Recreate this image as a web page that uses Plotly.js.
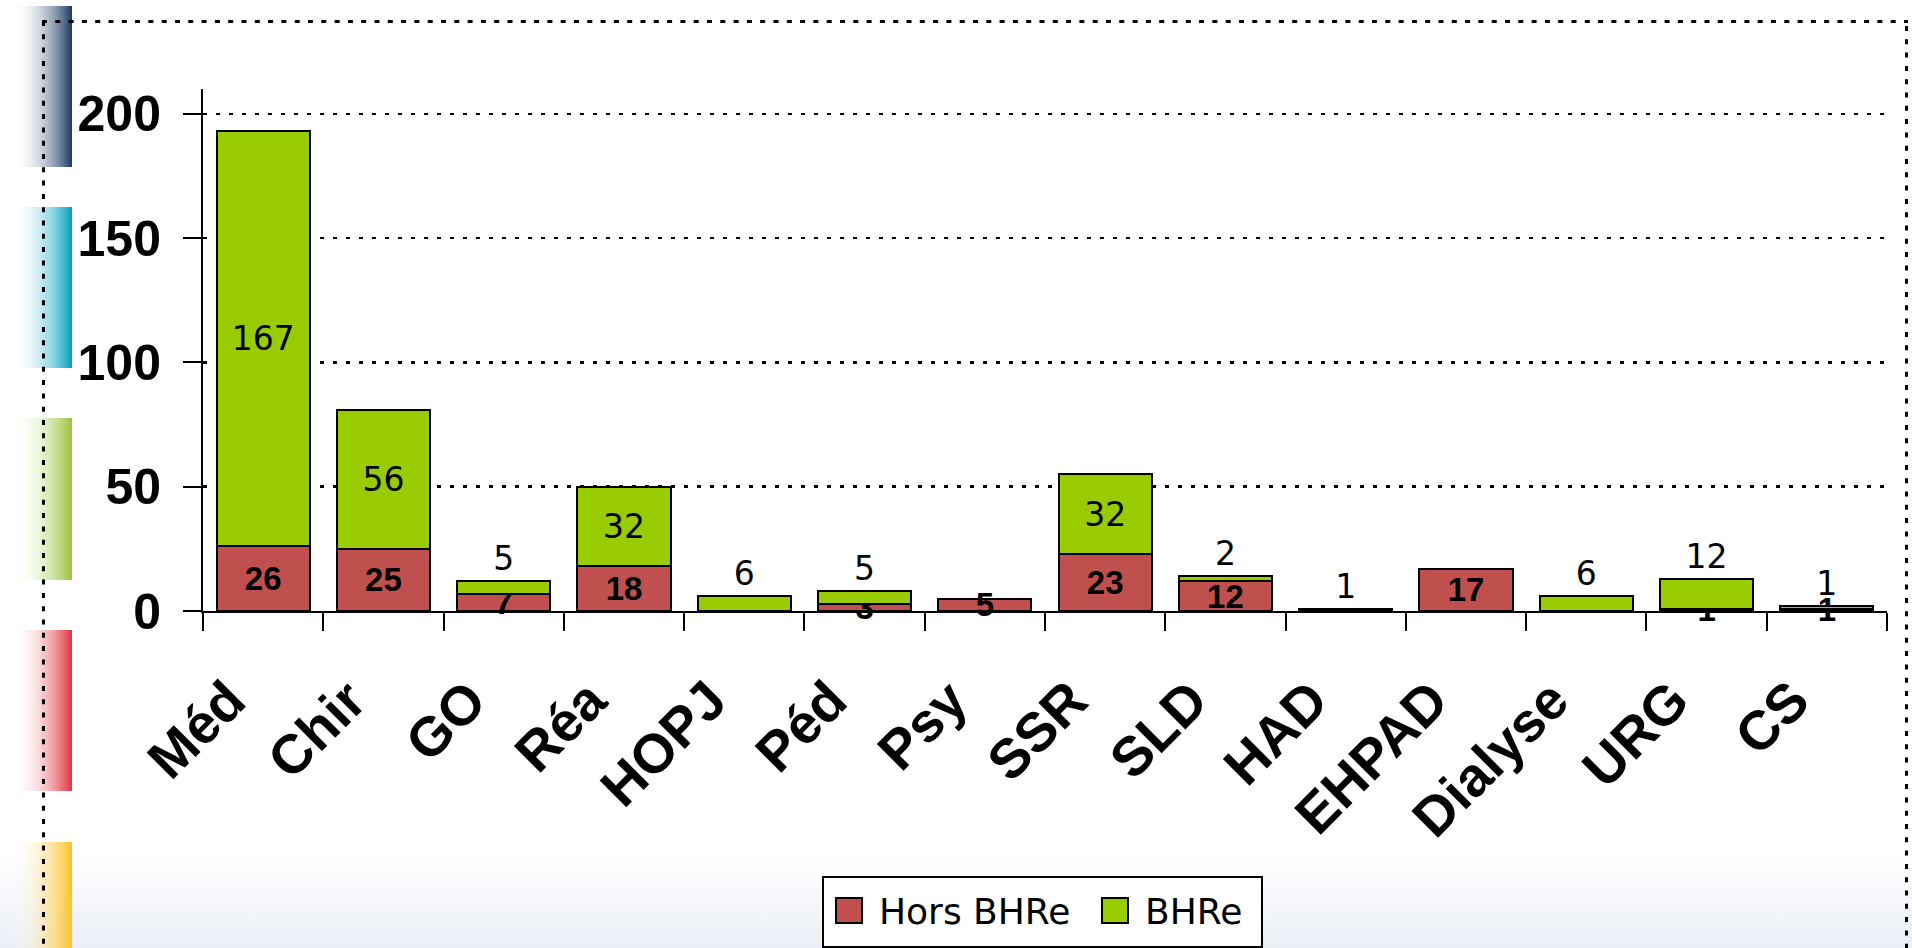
<!DOCTYPE html>
<html>
<head>
<meta charset="utf-8">
<script src="https://cdn.plot.ly/plotly-3.0.1.min.js"></script>
<style>
html,body{margin:0;padding:0;width:1912px;height:948px;overflow:hidden;background:#ffffff;}
#bg{position:absolute;left:0;top:0;}
#chart{position:absolute;left:0;top:0;width:1912px;height:948px;}
</style>
</head>
<body>
<svg id="bg" width="1912" height="948" xmlns="http://www.w3.org/2000/svg">
  <defs>
    <linearGradient id="gBottom" x1="0" y1="0" x2="0" y2="1">
      <stop offset="0" stop-color="#ffffff"/>
      <stop offset="1" stop-color="#ebeff5"/>
    </linearGradient>
    <linearGradient id="gNavy" x1="0" y1="0" x2="1" y2="0">
      <stop offset="0" stop-color="#ffffff" stop-opacity="0"/>
      <stop offset="1" stop-color="#1b3964"/>
    </linearGradient>
    <linearGradient id="gTeal" x1="0" y1="0" x2="1" y2="0">
      <stop offset="0" stop-color="#ffffff" stop-opacity="0"/>
      <stop offset="1" stop-color="#00a1bf"/>
    </linearGradient>
    <linearGradient id="gGreen" x1="0" y1="0" x2="1" y2="0">
      <stop offset="0" stop-color="#ffffff" stop-opacity="0"/>
      <stop offset="1" stop-color="#9bc33a"/>
    </linearGradient>
    <linearGradient id="gRed" x1="0" y1="0" x2="1" y2="0">
      <stop offset="0" stop-color="#ffffff" stop-opacity="0"/>
      <stop offset="1" stop-color="#e1323f"/>
    </linearGradient>
    <linearGradient id="gOrange" x1="0" y1="0" x2="1" y2="0">
      <stop offset="0" stop-color="#ffffff" stop-opacity="0"/>
      <stop offset="1" stop-color="#fdc225"/>
    </linearGradient>
  </defs>
  <rect x="0" y="850" width="1912" height="98" fill="url(#gBottom)"/>
  <rect x="13" y="6" width="59" height="161" fill="url(#gNavy)"/>
  <rect x="13" y="207" width="59" height="161" fill="url(#gTeal)"/>
  <rect x="13" y="418" width="59" height="162" fill="url(#gGreen)"/>
  <rect x="13" y="630" width="59" height="161" fill="url(#gRed)"/>
  <rect x="13" y="842" width="59" height="106" fill="url(#gOrange)"/>
  <g stroke="#000" stroke-width="3" stroke-dasharray="5 8.3" fill="none">
    <line x1="42" y1="21.5" x2="1908" y2="21.5"/>
    <line x1="43.5" y1="21" x2="43.5" y2="948"/>
    <line x1="1906.5" y1="26" x2="1906.5" y2="948"/>
  </g>
</svg>
<div id="chart"></div>
<script>
// ---- data ----
const categories = ['Méd','Chir','GO','Réa','HOPJ','Péd','Psy','SSR','SLD','HAD','EHPAD','Dialyse','URG','CS'];
const horsBHRe   = [26, 25, 7, 18, 0, 3, 5, 23, 12, 0, 17, 0, 1, 1];
const bhre       = [167, 56, 5, 32, 6, 5, 0, 32, 2, 1, 0, 6, 12, 1];
const seriesNames  = ['Hors BHRe', 'BHRe'];
const seriesColors = ['#C0504D', '#99CC00'];
const yTickVals = [0, 50, 100, 150, 200];

// ---- geometry (pixels) ----
const W = 1912, H = 948;
const M = {l: 203, r: 25, t: 89, b: 337};
const PW = W - M.l - M.r, PH = H - M.t - M.b;
const px2x = p => (p - M.l) / PW;
const px2y = p => (H - M.b - p) / PH;

const boldFont = 'Liberation Sans, Arial, sans-serif';
const lightFont = 'DejaVu Sans, Verdana, sans-serif';

const labelOf = v => (v > 0 ? String(v) : '');

const traceHors = {
  type: 'bar', name: seriesNames[0], x: categories, y: horsBHRe,
  marker: {color: seriesColors[0], line: {color: '#000', width: 2}},
  text: horsBHRe.map(labelOf),
  textposition: 'inside', insidetextanchor: 'middle', constraintext: 'none', textangle: 0,
  textfont: {family: boldFont, size: 33, weight: 'bold', color: '#000'},
  insidetextfont: {family: boldFont, size: 33, weight: 'bold', color: '#000'},
  cliponaxis: false, hoverinfo: 'x+y+name'
};
const traceBHRe = {
  type: 'bar', name: seriesNames[1], x: categories, y: bhre,
  marker: {color: seriesColors[1], line: {color: '#000', width: 2}},
  text: bhre.map(labelOf),
  textposition: bhre.map(v => (v >= 15 ? 'inside' : 'outside')),
  insidetextanchor: 'middle', constraintext: 'none', textangle: 0,
  textfont: {family: lightFont, size: 33, color: '#000'},
  insidetextfont: {family: lightFont, size: 33, color: '#000'},
  outsidetextfont: {family: lightFont, size: 33, color: '#000'},
  cliponaxis: false, hoverinfo: 'x+y+name'
};

// custom legend (box, swatches, names)
const legBox = {x0: 823, x1: 1262, y0: 877, y1: 947};
const swatches = [{x0: 836, x1: 862}, {x0: 1102, x1: 1128}];
const swY = {y0: 898, y1: 923};
const legTextX = [877, 1143];
const legTextY = 911;

const shapes = [
  {type: 'rect', xref: 'paper', yref: 'paper',
   x0: px2x(legBox.x0), x1: px2x(legBox.x1), y0: px2y(legBox.y1), y1: px2y(legBox.y0),
   line: {color: '#000', width: 2}, fillcolor: '#ffffff', layer: 'above'}
];
const annotations = [];
seriesNames.forEach((nm, i) => {
  shapes.push({type: 'rect', xref: 'paper', yref: 'paper',
    x0: px2x(swatches[i].x0), x1: px2x(swatches[i].x1), y0: px2y(swY.y1), y1: px2y(swY.y0),
    line: {color: '#000', width: 2}, fillcolor: seriesColors[i], layer: 'above'});
  annotations.push({xref: 'paper', yref: 'paper', x: px2x(legTextX[i]), y: px2y(legTextY),
    xanchor: 'left', yanchor: 'middle', showarrow: false, text: nm,
    font: {family: lightFont, size: 36, color: '#000'}});
});

const layout = {
  width: W, height: H,
  margin: {l: M.l, r: M.r, t: M.t, b: M.b, pad: 0},
  paper_bgcolor: 'rgba(0,0,0,0)', plot_bgcolor: 'rgba(0,0,0,0)',
  barmode: 'stack', bargap: 0.226,
  showlegend: false,
  xaxis: {
    type: 'category', showline: true, linecolor: '#000', linewidth: 2,
    ticks: 'outside', ticklen: 18, tickwidth: 2, tickcolor: '#000', tickson: 'boundaries',
    tickangle: -45, showgrid: false, zeroline: false,
    tickfont: {family: boldFont, size: 55, weight: 'bold', color: '#000'},
    ticklabelstandoff: 33, ticklabelshift: -34
  },
  yaxis: {
    range: [0, 210], tickvals: yTickVals, ticktext: yTickVals.map(String),
    showline: true, linecolor: '#000', linewidth: 2,
    ticks: 'outside', ticklen: 18, tickwidth: 2, tickcolor: '#000',
    showgrid: true, gridcolor: '#000', gridwidth: 2.5, griddash: '4px,9px',
    zeroline: false,
    tickfont: {family: boldFont, size: 50, weight: 'bold', color: '#000'},
    ticklabelstandoff: 12
  },
  shapes: shapes,
  annotations: annotations
};

Plotly.newPlot('chart', [traceHors, traceBHRe], layout, {displayModeBar: false, staticPlot: true});
</script>
</body>
</html>
